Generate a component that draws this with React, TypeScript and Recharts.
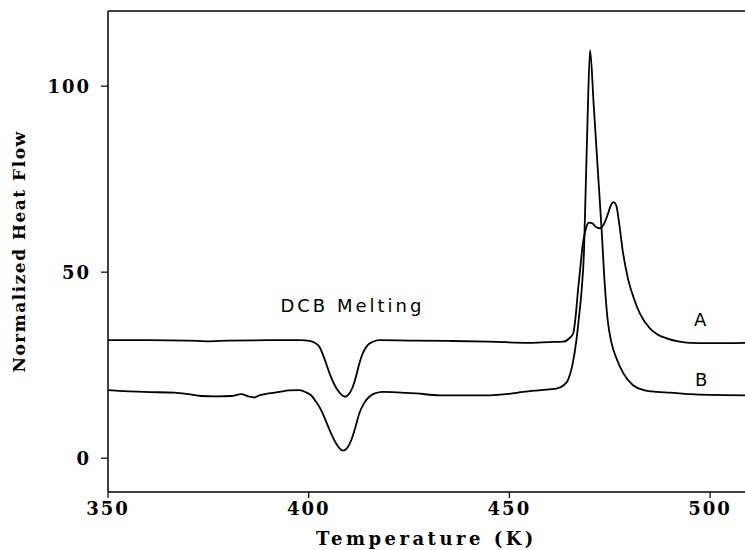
import React from 'react';
import { LineChart, Line, XAxis, YAxis, ReferenceLine, ReferenceDot } from 'recharts';

const X_DOMAIN: [number, number] = [350, 508.7];
const Y_DOMAIN: [number, number] = [-9.1, 120.2];
const xTicks = [350, 400, 450, 500];
const yTicks = [0, 50, 100];

const tempA = [350, 360, 370, 375, 380, 390, 398, 400.2, 401.5, 402.7, 404, 405.2, 406.3, 407.2, 408.2, 409.1, 410, 411, 411.8, 412.6, 413.6, 414.7, 416, 417.6, 425, 435, 445, 455, 460, 463.4, 465, 465.9, 466.5, 467.1, 467.7, 468.2, 468.7, 469.2, 469.8, 470.6, 471.5, 472.5, 473.5, 474.5, 475.3, 475.9, 476.6, 477.3, 478.2, 479.6, 481, 482.5, 485, 487, 489.2, 492, 495, 500, 508.7];
const flowA = [31.7, 31.7, 31.6, 31.4, 31.6, 31.7, 31.7, 31.5, 31.0, 29.9, 26.5, 22.8, 20.0, 18.3, 17.0, 16.5, 17.2, 19.2, 22.0, 25.4, 28.5, 30.4, 31.3, 31.7, 31.6, 31.5, 31.3, 31.0, 31.2, 31.3, 32.3, 33.5, 38, 45.2, 51.5, 56.8, 60.0, 62.2, 63.3, 63.2, 62.2, 61.8, 62.8, 65.5, 68.0, 68.8, 68.0, 63.5, 56, 48, 43, 38.9, 34.9, 33.2, 32.2, 31.4, 31.0, 30.9, 31.0];

const tempB = [350, 359, 366.5, 370, 373.2, 377, 380.7, 383.2, 385, 386.4, 387.7, 390, 392.7, 395, 397.7, 399.5, 400.6, 401.8, 403.1, 404.4, 405.6, 406.8, 407.7, 408.5, 409.5, 410.6, 411.6, 412.6, 413.8, 415.1, 416.5, 418.4, 422, 426.8, 432.6, 439.3, 445.1, 450, 453.4, 458, 461.7, 463.5, 464.6, 465.7, 466.7, 467.4, 468, 468.6, 469.0, 469.5, 470.1, 471.0, 472.0, 473.0, 473.8, 474.5, 475.4, 476.8, 478.4, 480.8, 483.5, 486.7, 490, 495, 500, 508.7];
const flowB = [18.3, 17.8, 17.6, 17.2, 16.7, 16.6, 16.7, 17.2, 16.6, 16.3, 16.9, 17.4, 17.8, 18.2, 18.3, 17.6, 16.9, 15.2, 12.9, 9.7, 6.6, 4.0, 2.6, 2.0, 2.6, 4.8, 8.2, 12, 14.8, 16.5, 17.4, 17.8, 17.7, 17.4, 16.9, 16.9, 16.9, 17.3, 17.8, 18.3, 18.7, 19.6, 21, 25, 31.7, 38.5, 45.2, 56, 72, 92, 109.7, 95, 78, 61, 46, 37, 31.2, 26.5, 22.8, 19.6, 18.3, 17.8, 17.6, 17.2, 17.0, 16.9];

const dataA = tempA.map((t, i) => ({ t, v: flowA[i] }));
const dataB = tempB.map((t, i) => ({ t, v: flowB[i] }));

const serif = '"DejaVu Serif", serif';
const sans = '"DejaVu Sans", sans-serif';

const YLabel = (props: any) => {
  const vb = props.viewBox || { x: 0, y: 11, width: 108, height: 481 };
  const cx = vb.x + 19;
  const cy = vb.y + vb.height / 2;
  return (
    <text
      x={cx}
      y={cy}
      transform={`rotate(-90 ${cx} ${cy})`}
      textAnchor="middle"
      dominantBaseline="central"
      fontFamily={serif}
      fontWeight="bold"
      fontSize={17}
      letterSpacing={1.5}
      fill="#000"
    >
      Normalized Heat Flow
    </text>
  );
};

const tickStyle = { fontFamily: serif, fontWeight: 'bold', fontSize: 18, fill: '#000', letterSpacing: 2 } as any;

export default function App() {
  return (
    <div style={{ position: 'absolute', left: 0, top: 0, width: 745, height: 550, background: '#fff' }}>
      <LineChart width={745} height={550} margin={{ top: 11, right: 0, bottom: 0, left: 0 }}>
        <XAxis
          dataKey="t"
          type="number"
          domain={X_DOMAIN}
          ticks={xTicks}
          allowDataOverflow
          height={58}
          tickSize={6}
          tickMargin={4}
          stroke="#000"
          axisLine={{ stroke: '#000', strokeWidth: 1.5 }}
          tickLine={{ stroke: '#000', strokeWidth: 1.2 }}
          tick={tickStyle}
          label={{ value: 'Temperature (K)', position: 'insideBottom', offset: 5, fontFamily: serif, fontWeight: 'bold', fontSize: 18, fill: '#000', letterSpacing: 3.5 } as any}
        />
        <YAxis
          type="number"
          domain={Y_DOMAIN}
          ticks={yTicks}
          allowDataOverflow
          width={108}
          tickSize={7}
          tickMargin={10}
          stroke="#000"
          axisLine={{ stroke: '#000', strokeWidth: 1.5 }}
          tickLine={{ stroke: '#000', strokeWidth: 1.2 }}
          tick={tickStyle}
          label={<YLabel />}
        />
        <ReferenceLine y={Y_DOMAIN[1]} stroke="#000" strokeWidth={1.5} />
        <Line data={dataA} dataKey="v" type="monotone" stroke="#000" strokeWidth={1.8} dot={false} isAnimationActive={false} />
        <Line data={dataB} dataKey="v" type="monotone" stroke="#000" strokeWidth={1.8} dot={false} isAnimationActive={false} />
        <ReferenceDot x={410.9} y={40.9} r={1} fill="none" stroke="none" label={{ value: 'DCB Melting', position: 'center', fontFamily: sans, fontSize: 18, fill: '#000', letterSpacing: 3 } as any} />
        <ReferenceDot x={497.5} y={37.2} r={1} fill="none" stroke="none" label={{ value: 'A', position: 'center', fontFamily: sans, fontSize: 18, fill: '#000' } as any} />
        <ReferenceDot x={497.8} y={21} r={1} fill="none" stroke="none" label={{ value: 'B', position: 'center', fontFamily: sans, fontSize: 18, fill: '#000' } as any} />
      </LineChart>
    </div>
  );
}
